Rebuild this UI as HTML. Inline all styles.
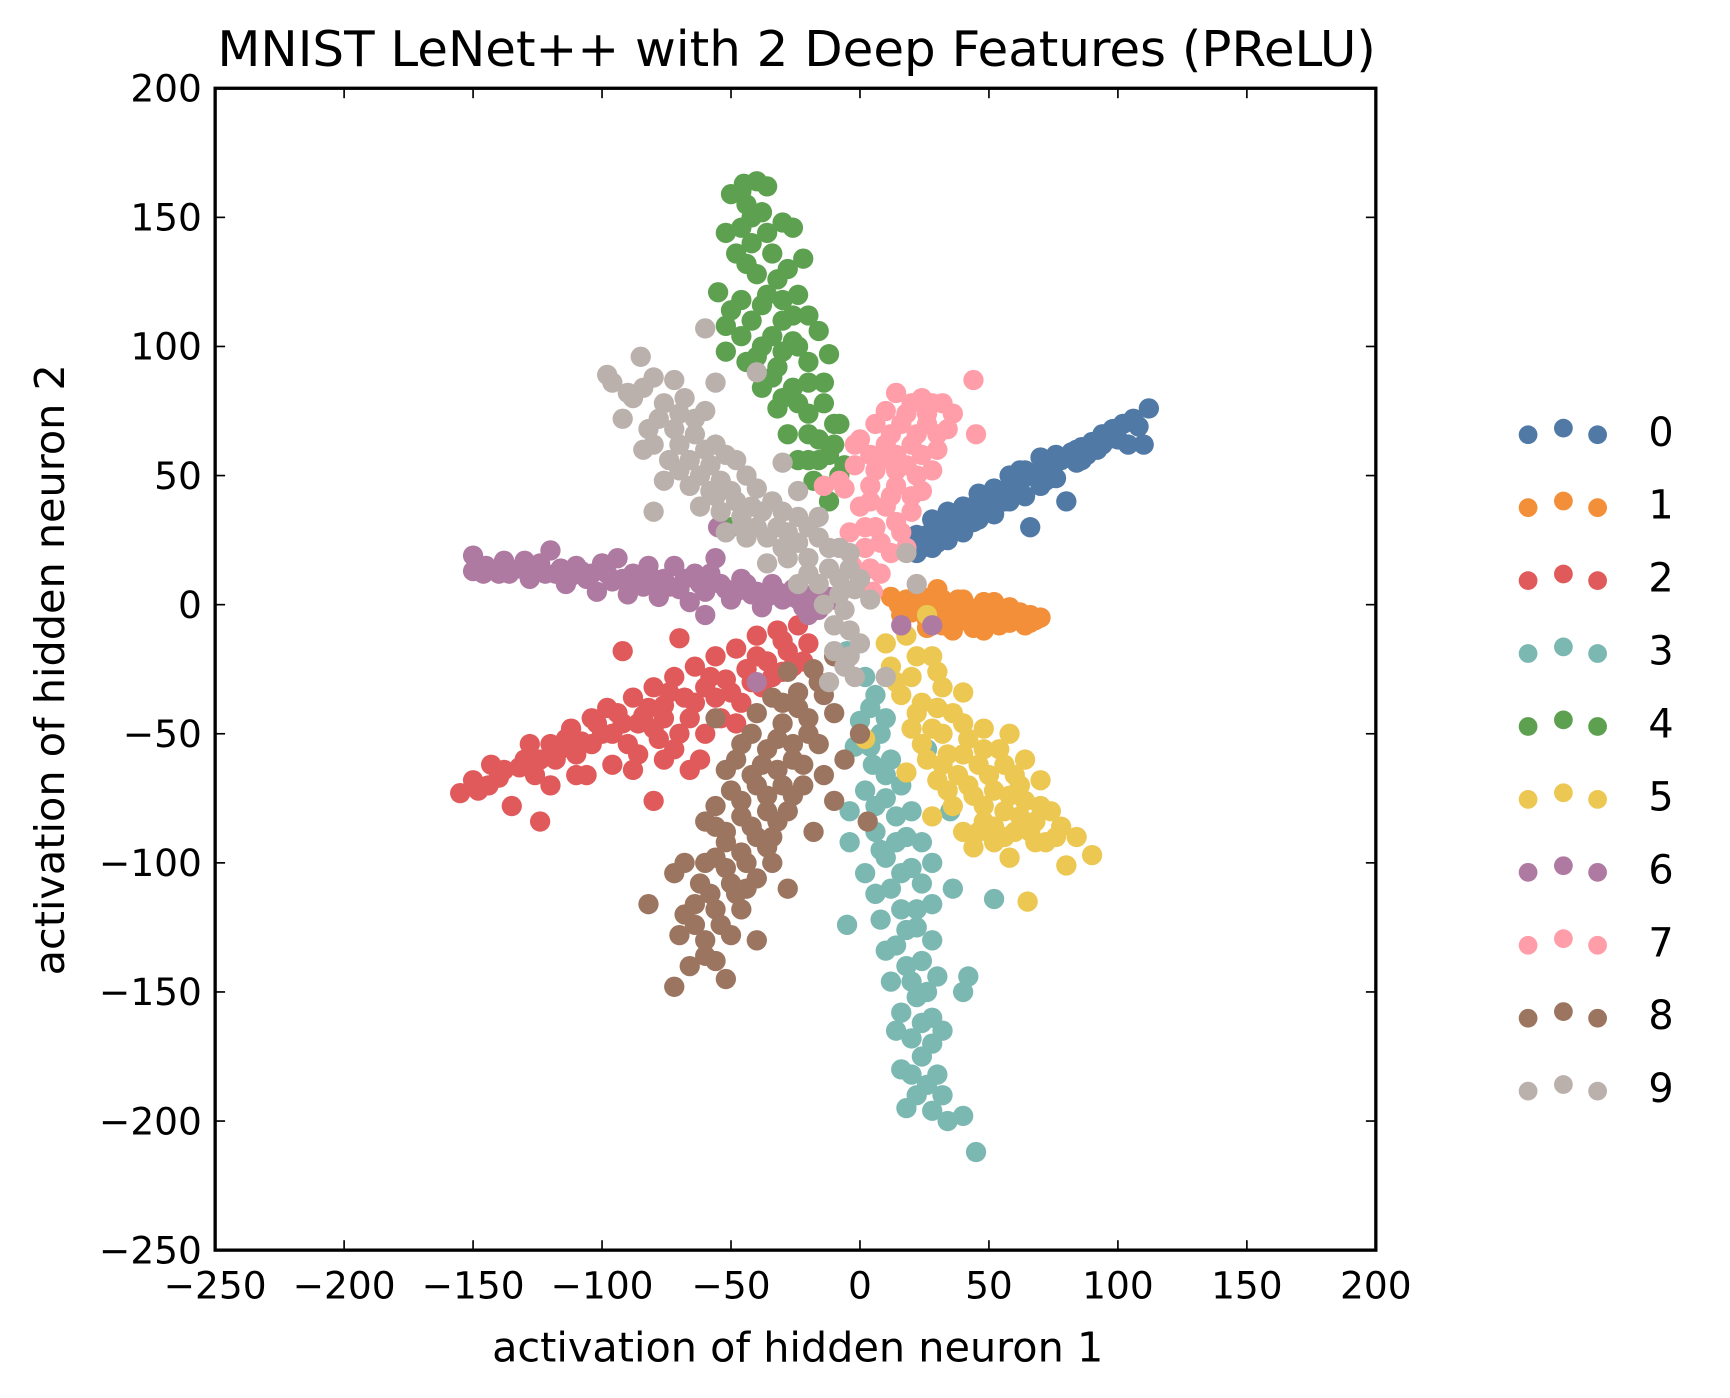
<!DOCTYPE html>
<html><head><meta charset="utf-8"><style>
html,body{margin:0;padding:0;background:#fff;}
svg{display:block;}
text{font-family:"DejaVu Sans","Liberation Sans",sans-serif;fill:#000;}
</style></head><body>
<svg id="chart" width="1730" height="1398" viewBox="0 0 1568 1267" preserveAspectRatio="none" xmlns="http://www.w3.org/2000/svg">
<rect width="1568" height="1267" fill="#fff"/>
<g id="points"></g>
<g id="axes"></g>
<g id="legend"></g>
<text x="722" y="60" font-size="44" text-anchor="middle" textLength="1050" lengthAdjust="spacingAndGlyphs">MNIST LeNet++ with 2 Deep Features (PReLU)</text>
<text x="723" y="1234" font-size="37" text-anchor="middle" textLength="554" lengthAdjust="spacingAndGlyphs">activation of hidden neuron 1</text>
<text x="0" y="0" font-size="37" text-anchor="middle" textLength="554" lengthAdjust="spacingAndGlyphs" transform="translate(58,607) rotate(-90)">activation of hidden neuron 2</text>
</svg>
<script>
const classLabels = ["0","1","2","3","4","5","6","7","8","9"];
const classColors = ["#5079a6","#f28f38","#e15a5b","#7ab8b1","#5da150","#ecc752","#af7aa1","#ff9ea9","#9c7560","#bab0ac"];
const xTicks = [-250,-200,-150,-100,-50,0,50,100,150,200];
const yTicks = [200,150,100,50,0,-50,-100,-150,-200,-250];
const class0 = [[18,22],[22,27],[22,20],[26,27],[28,33],[28,22],[30,29],[34,31],[34,36],[34,25],[38,33],[40,38],[40,28],[42,36],[46,38],[46,43],[46,33],[50,40],[52,45],[52,35],[54,43],[58,45],[58,50],[58,40],[62,47],[64,52],[64,42],[66,50],[66,30],[70,52],[70,57],[70,46],[74,54],[76,58],[76,49],[78,56],[80,40],[82,59],[84,55],[86,61],[88,58],[90,63],[92,60],[94,66],[98,68],[100,64],[102,70],[104,62],[106,72],[108,69],[110,62],[112,76],[20,24],[24,22],[32,28],[36,34],[44,38],[48,41],[56,44],[60,46],[68,50],[72,54],[80,57],[84,60],[96,64],[30,24],[44,32],[56,40],[62,52],[72,48],[86,56],[94,62]];
const class1 = [[12,3],[15,0],[18,2],[20,-3],[22,4],[24,-1],[26,-6],[28,1],[30,6],[30,-3],[32,-8],[34,0],[36,-4],[38,2],[40,-6],[42,-1],[44,-9],[46,-3],[48,1],[50,-6],[52,-2],[54,-8],[56,-4],[58,-1],[60,-6],[62,-3],[64,-8],[66,-4],[68,-6],[70,-5],[26,-9],[36,-10],[48,-10],[16,-4],[20,1],[24,3],[28,-4],[32,2],[34,-6],[38,-2],[42,-6],[46,-7],[50,-2],[54,-4],[58,-7],[62,-5],[66,-7],[40,2],[52,1]];
const class2 = [[-155,-73],[-148,-72],[-143,-62],[-140,-67],[-135,-78],[-132,-63],[-128,-54],[-124,-60],[-124,-84],[-120,-70],[-116,-56],[-112,-48],[-108,-53],[-106,-66],[-100,-50],[-98,-40],[-96,-62],[-92,-46],[-92,-18],[-88,-36],[-86,-58],[-84,-43],[-80,-76],[-80,-32],[-78,-52],[-76,-39],[-72,-28],[-70,-13],[-70,-50],[-68,-36],[-64,-24],[-62,-60],[-60,-32],[-56,-20],[-54,-44],[-52,-29],[-48,-17],[-46,-38],[-44,-25],[-40,-12],[-38,-32],[-36,-22],[-32,-10],[-30,-26],[-28,-18],[-24,-8],[-20,-15],[-22,-22],[-66,-64],[-104,-44],[-150,-68],[-144,-70],[-138,-64],[-130,-60],[-126,-66],[-118,-60],[-114,-52],[-110,-58],[-104,-54],[-102,-46],[-96,-50],[-94,-42],[-90,-54],[-86,-46],[-82,-40],[-80,-48],[-76,-44],[-74,-34],[-72,-56],[-66,-44],[-64,-38],[-60,-50],[-58,-28],[-56,-36],[-50,-34],[-48,-46],[-42,-30],[-40,-20],[-34,-28],[-30,-14],[-26,-24],[-110,-66],[-88,-64],[-76,-60],[-120,-54]];
const class3 = [[-5,-18],[2,-28],[6,-35],[0,-45],[8,-50],[-2,-55],[5,-62],[12,-60],[2,-72],[10,-75],[-4,-80],[14,-82],[6,-88],[-4,-92],[18,-90],[10,-98],[2,-104],[20,-102],[12,-110],[24,-108],[16,-118],[8,-122],[-5,-124],[22,-125],[14,-132],[28,-130],[18,-140],[12,-146],[30,-144],[22,-152],[16,-158],[28,-160],[20,-168],[32,-165],[24,-175],[16,-180],[30,-182],[22,-190],[18,-195],[28,-196],[34,-200],[40,-198],[45,-212],[40,-150],[42,-144],[52,-114],[35,-80],[30,-40],[24,-92],[16,-70],[26,-56],[36,-110],[4,-40],[10,-44],[4,-55],[10,-66],[6,-78],[14,-92],[8,-95],[6,-112],[16,-104],[18,-126],[10,-134],[24,-138],[20,-146],[26,-150],[14,-165],[24,-162],[28,-170],[20,-182],[26,-186],[32,-190],[22,-118],[28,-116],[20,-80],[28,-100]];
const class4 = [[-45,163],[-40,164],[-36,162],[-50,159],[-44,155],[-38,152],[-52,144],[-30,148],[-26,146],[-42,140],[-48,136],[-34,136],[-40,128],[-28,130],[-22,134],[-55,121],[-46,118],[-36,120],[-24,120],[-42,110],[-30,110],[-20,112],[-52,108],[-38,100],[-26,102],[-16,106],[-52,98],[-44,94],[-32,92],[-20,94],[-12,97],[-38,84],[-26,84],[-14,86],[-32,76],[-20,74],[-10,70],[-28,66],[-16,64],[-8,70],[-24,56],[-12,58],[-18,48],[-8,50],[-12,40],[-50,30],[-46,160],[-42,150],[-46,146],[-36,144],[-44,132],[-32,126],[-38,116],[-50,114],[-30,118],[-26,112],[-46,104],[-34,104],[-30,98],[-40,96],[-24,100],[-34,88],[-20,86],[-30,80],[-24,78],[-14,78],[-20,66],[-10,62],[-16,56],[-6,54],[-14,46],[-20,56]];
const class5 = [[10,-15],[18,-12],[12,-24],[20,-28],[28,-20],[16,-35],[24,-38],[32,-32],[20,-48],[28,-48],[36,-42],[40,-34],[26,-60],[34,-58],[42,-52],[48,-48],[30,-68],[38,-66],[46,-62],[54,-56],[58,-50],[36,-78],[44,-74],[52,-72],[60,-66],[64,-60],[40,-88],[48,-84],[56,-80],[64,-76],[70,-68],[44,-94],[52,-92],[60,-88],[68,-84],[74,-80],[58,-98],[68,-92],[76,-90],[80,-101],[84,-90],[90,-97],[65,-115],[28,-82],[18,-65],[2,-52],[26,-4],[14,-30],[22,-20],[30,-26],[22,-42],[30,-40],[24,-54],[32,-50],[40,-46],[32,-62],[40,-58],[48,-56],[42,-70],[50,-66],[56,-62],[48,-78],[58,-74],[62,-70],[52,-86],[62,-82],[70,-78],[56,-90],[66,-88],[72,-92],[78,-86],[34,-72],[46,-88]];
const class6 = [[-150,19],[-150,13],[-145,15],[-140,12],[-138,17],[-132,14],[-128,10],[-124,16],[-120,21],[-118,12],[-114,8],[-110,15],[-106,10],[-102,5],[-100,16],[-96,9],[-94,18],[-90,4],[-88,12],[-84,7],[-82,15],[-78,3],[-76,10],[-72,15],[-70,6],[-66,1],[-64,12],[-60,5],[-56,18],[-54,8],[-50,2],[-46,10],[-42,4],[-38,-1],[-34,8],[-30,2],[-26,6],[-22,-1],[-18,4],[-14,0],[-10,2],[-40,-30],[-60,-4],[-20,-4],[-55,30],[16,-8],[28,-8],[-146,12],[-136,12],[-130,17],[-126,13],[-122,12],[-116,14],[-112,11],[-108,13],[-104,12],[-98,12],[-92,10],[-86,9],[-80,10],[-74,7],[-68,10],[-62,8],[-58,12],[-52,6],[-48,5],[-44,8],[-40,5],[-36,3],[-32,5],[-28,3],[-24,2],[-16,-2],[-12,3]];
const class7 = [[0,8],[5,5],[-3,15],[8,12],[2,22],[12,20],[-4,28],[6,30],[16,28],[0,38],[10,38],[20,36],[-14,46],[-6,45],[4,46],[14,46],[24,44],[-2,54],[8,56],[18,54],[28,52],[0,64],[10,62],[20,62],[30,60],[6,70],[16,70],[26,70],[34,68],[10,75],[20,78],[28,78],[36,74],[24,80],[44,87],[45,66],[14,82],[-2,62],[4,14],[8,24],[14,32],[4,40],[12,42],[20,42],[6,52],[14,52],[22,50],[4,58],[14,58],[24,58],[12,66],[22,66],[30,66],[18,74],[26,74],[32,78],[-8,48],[2,30],[18,22]];
const class8 = [[-10,-20],[-18,-25],[-28,-26],[-14,-35],[-24,-34],[-34,-36],[-10,-42],[-20,-44],[-30,-46],[-40,-42],[-56,-44],[-16,-54],[-26,-54],[-36,-56],[-46,-54],[-22,-62],[-32,-64],[-42,-66],[-52,-64],[-26,-74],[-36,-74],[-46,-76],[-56,-78],[-32,-84],[-42,-86],[-52,-88],[-60,-84],[-36,-94],[-46,-96],[-56,-98],[-68,-100],[-40,-106],[-50,-108],[-62,-108],[-72,-104],[-46,-118],[-56,-118],[-68,-120],[-82,-116],[-50,-128],[-60,-130],[-70,-128],[-56,-138],[-66,-140],[-72,-148],[-52,-145],[-40,-130],[-28,-110],[-18,-88],[-10,-76],[3,-84],[0,-50],[-6,-60],[-16,-30],[-24,-40],[-30,-38],[-20,-50],[-32,-52],[-42,-50],[-26,-60],[-38,-62],[-48,-60],[-30,-70],[-40,-70],[-50,-72],[-36,-80],[-46,-82],[-56,-86],[-40,-90],[-52,-92],[-44,-100],[-52,-102],[-60,-100],[-48,-112],[-58,-112],[-64,-116],[-54,-124],[-64,-124],[-60,-136],[-44,-110],[-34,-100],[-28,-80],[-22,-70],[-14,-66],[-34,-90]];
const class9 = [[-98,89],[-96,86],[-85,96],[-80,88],[-72,87],[-88,80],[-76,78],[-68,80],[-60,75],[-92,72],[-82,68],[-72,68],[-64,66],[-56,62],[-84,60],[-74,56],[-66,56],[-58,54],[-48,56],[-76,48],[-66,46],[-58,44],[-50,44],[-40,45],[-62,38],[-54,36],[-46,34],[-38,36],[-30,36],[-52,28],[-44,26],[-36,26],[-28,28],[-20,30],[-36,16],[-28,18],[-20,18],[-12,22],[-4,20],[-24,8],[-16,8],[-8,10],[0,10],[-14,0],[-6,-2],[4,2],[-60,107],[-40,90],[-56,86],[-80,36],[-10,-18],[-4,-20],[0,-15],[-12,-30],[-6,-24],[18,20],[22,8],[-2,-28],[10,-28],[-30,55],[-24,44],[-16,34],[-90,82],[-84,84],[-78,72],[-70,74],[-64,72],[-80,62],[-70,62],[-60,60],[-52,58],[-70,52],[-62,50],[-54,48],[-44,50],[-56,42],[-48,40],[-42,38],[-34,40],[-46,30],[-40,30],[-32,30],[-24,34],[-30,22],[-24,24],[-16,26],[-8,22],[-20,12],[-12,14],[-4,14],[-8,4],[-2,6],[-10,-8],[-4,-10]];
const allClasses = [class0,class1,class2,class3,class4,class5,class6,class7,class8,class9];

const NS = "http://www.w3.org/2000/svg";
const L = 195, R = 1247, T = 80, B = 1133;
const xMin = -250, xMax = 200, yMin = -250, yMax = 200;
function sx(v){ return L + (v - xMin) / (xMax - xMin) * (R - L); }
function sy(v){ return B - (v - yMin) / (yMax - yMin) * (B - T); }
function mk(tag, attrs){ const e = document.createElementNS(NS, tag); for (const k in attrs) e.setAttribute(k, attrs[k]); return e; }

const pg = document.getElementById('points');
allClasses.forEach((pts, ci) => {
  const g = mk('g', {fill: classColors[ci]});
  
  
  pts.forEach(p => {
    const c = mk('circle', {cx: sx(p[0]), cy: sy(p[1]), r: 9.2});
    
    
    g.appendChild(c);
  });
  pg.appendChild(g);
});

const ax = document.getElementById('axes');
const frame = mk('rect', {x: L, y: T, width: R - L, height: B - T, fill: 'none', stroke: '#000', 'stroke-width': 3});


ax.appendChild(frame);
xTicks.forEach(t => {
  const x = sx(t);
  const tb = mk('line', {x1: x, x2: x, y1: B, y2: B - 9, stroke: '#000', 'stroke-width': 1.5});
  
  
  ax.appendChild(tb);
  const tt = mk('line', {x1: x, x2: x, y1: T, y2: T + 9, stroke: '#000', 'stroke-width': 1.5});
  
  
  ax.appendChild(tt);
  const lb = mk('text', {x: x, y: B + 44, 'font-size': 34, 'text-anchor': 'middle'});
  lb.textContent = t < 0 ? '\u2212' + Math.abs(t) : String(t);
  
  
  ax.appendChild(lb);
});
yTicks.forEach(t => {
  const y = sy(t);
  const tl = mk('line', {x1: L, x2: L + 9, y1: y, y2: y, stroke: '#000', 'stroke-width': 1.5});
  
  
  ax.appendChild(tl);
  const tr = mk('line', {x1: R, x2: R - 9, y1: y, y2: y, stroke: '#000', 'stroke-width': 1.5});
  
  
  ax.appendChild(tr);
  const lb = mk('text', {x: L - 12, y: y + 12, 'font-size': 34, 'text-anchor': 'end'});
  lb.textContent = t < 0 ? '\u2212' + Math.abs(t) : String(t);
  
  
  ax.appendChild(lb);
});

const lg = document.getElementById('legend');
classLabels.forEach((lab, i) => {
  const y = 392 + i * 66.1;
  const g = mk('g', {});
  
  
  [[1385, 2], [1417, -4], [1448, 2]].forEach(m => {
    const c = mk('circle', {cx: m[0], cy: y + m[1], r: 8.5, fill: classColors[i]});
    
    
    g.appendChild(c);
  });
  const t = mk('text', {x: 1494, y: y + 12, 'font-size': 36});
  t.textContent = lab;
  
  
  g.appendChild(t);
  lg.appendChild(g);
});
</script>
</body></html>
